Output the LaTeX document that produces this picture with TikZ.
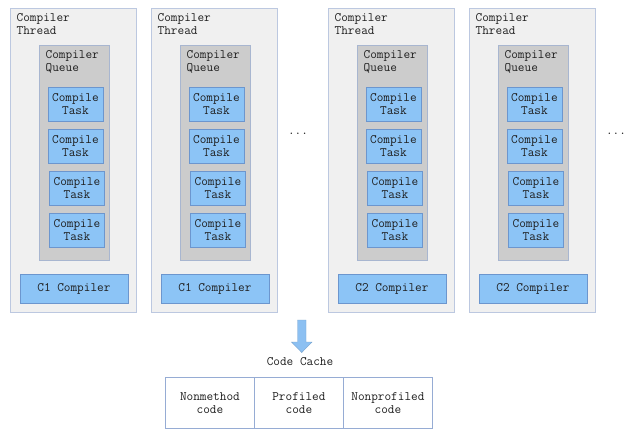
\documentclass[tikz,border=0pt]{standalone}
\definecolor{panelfill}{RGB}{240,240,240}
\definecolor{paneldraw}{RGB}{188,200,224}
\definecolor{queuefill}{RGB}{204,204,204}
\definecolor{queuedraw}{RGB}{168,182,208}
\definecolor{taskfill}{RGB}{140,196,246}
\definecolor{taskdraw}{RGB}{108,150,206}
\definecolor{celldraw}{RGB}{150,172,212}
\definecolor{arrowfill}{RGB}{140,192,242}
\definecolor{txtcol}{RGB}{30,30,30}
\tikzset{
  txt/.style={font=\ttfamily\fontsize{12.9}{13}\selectfont, text=txtcol},
  panelbox/.style={draw=paneldraw, fill=panelfill, line width=0.8pt, inner sep=0pt, anchor=north west, minimum width=126pt, minimum height=304pt},
  queuebox/.style={draw=queuedraw, fill=queuefill, line width=0.8pt, inner sep=0pt, anchor=north west, minimum width=70pt, minimum height=215pt},
  taskbox/.style={txt, draw=taskdraw, fill=taskfill, line width=0.8pt, inner sep=0pt, anchor=north west, minimum width=55pt, minimum height=34pt, align=center},
  compbox/.style={txt, draw=taskdraw, fill=taskfill, line width=0.8pt, inner sep=0pt, anchor=north west, minimum width=108pt, minimum height=29pt, align=center},
  lbl/.style={txt, inner sep=0pt, anchor=north west, align=left},
  cellbox/.style={txt, draw=celldraw, fill=white, line width=0.8pt, inner sep=0pt, anchor=north west, minimum width=89pt, minimum height=51pt, align=center},
}
\begin{document}
\begin{tikzpicture}[x=1pt,y=-1pt]
\useasboundingbox[fill=white] (0,0) rectangle (640,441);
\foreach \i/\x/\c in {1/10/C1, 2/151/C1, 3/328/C2, 4/469/C2}{
  \node[panelbox] (panel\i) at (\x,8) {};
  \node[lbl] (plabel\i) at (\x+6.5,13.5) {Compiler\\Thread};
  \node[queuebox] (queue\i) at (\x+29,45) {};
  \node[lbl] (qlabel\i) at (\x+35.5,50.5) {Compiler\\Queue};
  \node[taskbox] (taskA\i) at (\x+37.5,87) {Compile\\Task};
  \node[taskbox] (taskB\i) at (\x+37.5,129) {Compile\\Task};
  \node[taskbox] (taskC\i) at (\x+39,171) {Compile\\Task};
  \node[taskbox] (taskD\i) at (\x+39,213) {Compile\\Task};
  \node[compbox] (comp\i) at (\x+9.5,274) {\c\ Compiler};
}
\node[txt, inner sep=0pt] (dotsA) at (298,133.5) {...};
\node[txt, inner sep=0pt] (dotsB) at (616,133.5) {...};
% arrow
\fill[arrowfill, draw=arrowfill!85!black, line width=0.4pt]
  (297.5,320) -- (306,320) -- (306,342) -- (312,342) -- (301.75,352.5) -- (291.5,342) -- (297.5,342) -- cycle;
\node[txt, inner sep=0pt] (cctitle) at (300,362) {Code Cache};
\node[cellbox] (cellA) at (165,377) {Nonmethod\\code};
\node[cellbox] (cellB) at (254,377) {Profiled\\code};
\node[cellbox] (cellC) at (343,377) {Nonprofiled\\code};
\end{tikzpicture}
\end{document}
